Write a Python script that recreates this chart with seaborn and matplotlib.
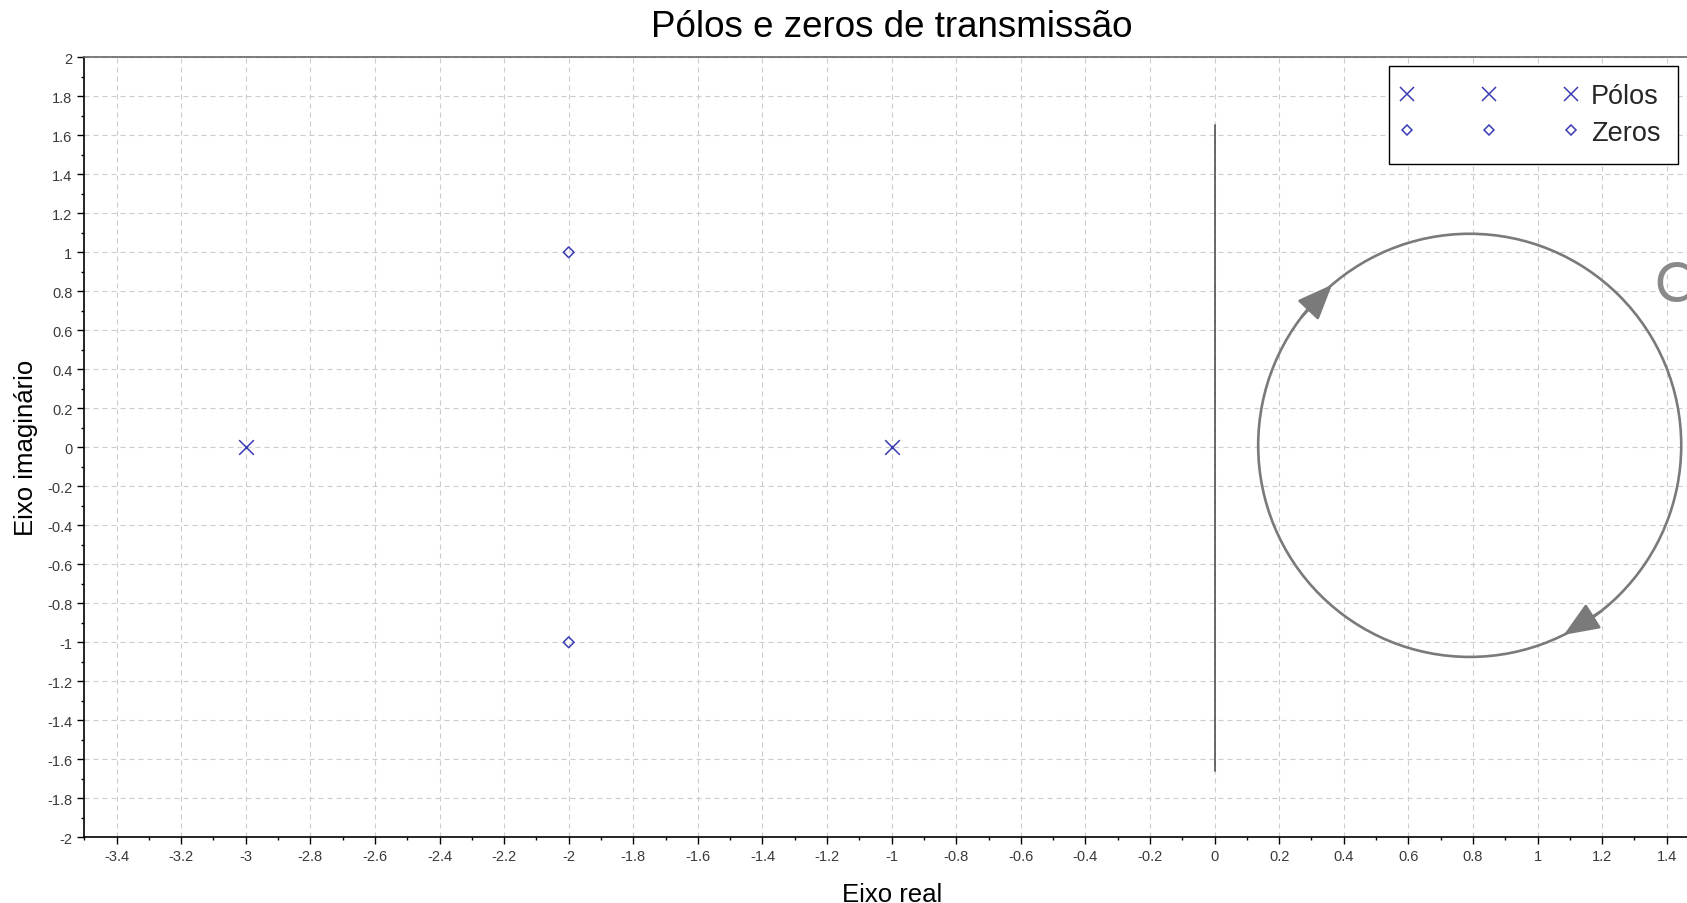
import numpy as np
import matplotlib
matplotlib.use("Agg")
import matplotlib.pyplot as plt
from matplotlib.lines import Line2D
from matplotlib.patches import Ellipse
from matplotlib.legend_handler import HandlerLine2D
from matplotlib.ticker import MultipleLocator, FuncFormatter
import seaborn as sns

# ---- data ----
poles_re = [-3.0, -1.0]
poles_im = [0.0, 0.0]
zeros_re = [-2.0, -2.0]
zeros_im = [1.0, -1.0]
legend_labels = ["Pólos", "Zeros"]
title = "Pólos e zeros de transmissão"
xlabel = "Eixo real"
ylabel = "Eixo imaginário"
imag_axis_x = [0.0, 0.0]
imag_axis_y = [1.655, -1.66]
contour_center = (0.79, 0.01)
contour_radius = (0.655, 1.085)   # (real, imaginary) half-axes in data units
arrow_angles = [130.6, -63.6]     # degrees, clockwise arrows
contour_letter = "C"

sns.set_theme(style="ticks")
plt.rcParams["font.family"] = ["Liberation Sans", "DejaVu Sans"]
plt.rcParams["axes.unicode_minus"] = False

W, H = 1687, 904
fig = plt.figure(figsize=(W / 100, H / 100), dpi=100)
ax_left, ax_right, ax_top, ax_bottom = 84.3, 1699.0, 58.3, 838.3
ax = fig.add_axes([ax_left / W, 1 - ax_bottom / H,
                   (ax_right - ax_left) / W, (ax_bottom - ax_top) / H])

blue = "#3b3bb5"
gray = "#7a7a7a"

sns.scatterplot(x=poles_re, y=poles_im, marker="x", s=112, color=blue,
                linewidth=1.1, ax=ax, legend=False, zorder=5)
sns.scatterplot(x=zeros_re, y=zeros_im, marker="D", s=30,
                facecolor="none", edgecolor=blue, linewidth=1.1,
                ax=ax, legend=False, zorder=5)
ax.collections[-1].set_facecolor("none")
ax.collections[-1].set_edgecolor(blue)

# imaginary axis line
ax.plot(imag_axis_x, imag_axis_y, color="#505050", lw=1.2, zorder=3)

# contour
cx, cy = contour_center
rx, ry = contour_radius
ax.add_patch(Ellipse((cx, cy), 2 * rx, 2 * ry, fill=False, ec=gray, lw=1.9, zorder=4))
for a in arrow_angles:
    t = np.deg2rad(a)
    tb = np.deg2rad(a + 12)
    tip = (cx + rx * np.cos(t), cy + ry * np.sin(t))
    tail = (cx + rx * np.cos(tb), cy + ry * np.sin(tb))
    ax.annotate("", xy=tip, xytext=tail,
                arrowprops=dict(arrowstyle="-|>,head_length=1.1,head_width=0.45",
                                mutation_scale=20, color=gray, lw=1.9,
                                shrinkA=0, shrinkB=0), zorder=4)
ax.text(1.362, 0.832, contour_letter, fontsize=40, color="#8a8a8a",
        family=["Lato", "DejaVu Sans"],
        ha="left", va="center", zorder=4)

# axes formatting
ax.set_xlim(-3.5, 1.5)
ax.set_ylim(-2, 2)
ax.xaxis.set_major_locator(MultipleLocator(0.2))
ax.xaxis.set_minor_locator(MultipleLocator(0.1))
ax.yaxis.set_major_locator(MultipleLocator(0.2))
ax.yaxis.set_minor_locator(MultipleLocator(0.1))
fmt = FuncFormatter(lambda v, p: "%g" % (round(v, 6) + 0.0))
ax.xaxis.set_major_formatter(fmt)
ax.yaxis.set_major_formatter(fmt)
ax.tick_params(axis="both", which="major", direction="out", length=5, width=1,
               color="black", labelsize=10.5, labelcolor="#3a3a3a", pad=3.5)
ax.tick_params(axis="both", which="minor", direction="out", length=2.2, width=1,
               color="black")
ax.tick_params(top=False, right=False, which="both")
ax.grid(True, which="major", color="#cccccc", lw=0.8, linestyle=(0, (4.5, 3.6)))
ax.set_axisbelow(True)
for s in ["left", "bottom"]:
    ax.spines[s].set_color("black")
    ax.spines[s].set_linewidth(1.2)
ax.spines["top"].set_color("#666666")
ax.spines["top"].set_linewidth(1.2)
ax.spines["right"].set_visible(False)

ax.set_title(title, fontsize=26.5, color="black", pad=15)
ax.set_xlabel(xlabel, fontsize=18.5, color="black")
ax.xaxis.label.set_va("baseline")
ax.xaxis.set_label_coords(0.5, -(902 - ax_bottom) / (ax_bottom - ax_top))
ax.set_ylabel(ylabel, fontsize=18.5, color="black")
ax.yaxis.label.set_va("baseline")
ax.yaxis.set_label_coords((33 - ax_left) / (ax_right - ax_left), 0.5)

handles = [
    Line2D([], [], ls="none", marker="x", ms=10.6, mew=1.1, color=blue),
    Line2D([], [], ls="none", marker="D", ms=5.5, mew=1.1, mfc="none", mec=blue),
]
leg = ax.legend(handles, legend_labels, numpoints=3, handlelength=6.05,
                handletextpad=0.75, fontsize=19.5, loc="upper right",
                bbox_to_anchor=(1678 / W, 1 - 66.5 / H), bbox_transform=fig.transFigure,
                borderaxespad=0, frameon=True, fancybox=False, framealpha=1,
                edgecolor="black", labelspacing=0.4, borderpad=0.65,
                handler_map={Line2D: HandlerLine2D(marker_pad=0.0)})
leg.get_frame().set_linewidth(1.0)

fig.savefig("out.png", dpi=100)
